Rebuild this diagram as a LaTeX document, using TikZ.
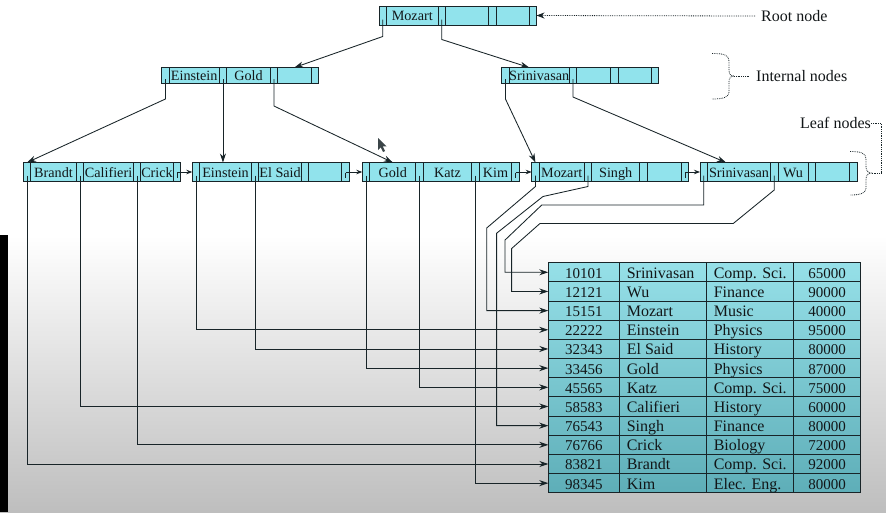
\documentclass[tikz,border=0pt]{standalone}
\usepackage{fontspec}
\setmainfont{Liberation Serif}
\usetikzlibrary{arrows.meta,calc}
\definecolor{cellfill}{RGB}{145,227,236}
\definecolor{edge}{RGB}{24,36,40}
\definecolor{tabtop}{RGB}{150,224,232}
\definecolor{tabbot}{RGB}{94,174,184}
\definecolor{bgbot}{RGB}{190,190,190}
\definecolor{ink}{RGB}{18,22,24}
\pgfdeclarelayer{bg}
\pgfsetlayers{bg,main}

\tikzset{
  cellbase/.style={draw=edge, line width=0.9pt, fill=cellfill, inner sep=0pt, outer sep=0pt,
    text=ink, font=\fontsize{14.2}{16}\selectfont, text height=12.6pt, text depth=2.2pt},
  rootrow/.style={minimum height=19pt},
  innerrow/.style={minimum height=16pt},
  leafrow/.style={minimum height=19pt},
  pcell/.style={cellbase, minimum width=7.5pt},
  kcell/.style={cellbase},
  ptr/.style={draw=edge, line width=0.85pt, -{Stealth[length=9pt,width=6pt]}},
  nextptr/.style={draw=edge, line width=0.85pt, -{Stealth[length=6pt,width=4.5pt]}},
  tick/.style={draw=edge, line width=0.85pt},
  tcell/.style={draw=edge, line width=0.9pt, inner sep=0pt, outer sep=0pt,
    minimum height=19.17pt, text=ink, text height=14pt, text depth=2pt},
  numtxt/.style={font=\fontsize{15}{17}\selectfont},
  wordtxt/.style={font=\fontsize{16}{18}\selectfont, inner xsep=7.5pt},
  note/.style={font=\fontsize{16}{18}\selectfont, text=ink, inner sep=0pt},
  guide/.style={draw=edge, densely dotted, line width=0.8pt},
}

% one B+-tree node: pointer / key / pointer / key / pointer / key / pointer
% #1 name, #2 west-centre point, #3 row style, #4-#6 key widths, #7-#9 keys
\newcommand\bpnode[9]{%
  \node[pcell,#3,anchor=west] (#1-p1) at #2 {};
  \node[kcell,#3,minimum width=#4pt,anchor=west] (#1-k1) at (#1-p1.east) {#7};
  \node[pcell,#3,anchor=west] (#1-p2) at (#1-k1.east) {};
  \node[kcell,#3,minimum width=#5pt,anchor=west] (#1-k2) at (#1-p2.east) {#8};
  \node[pcell,#3,anchor=west] (#1-p3) at (#1-k2.east) {};
  \node[kcell,#3,minimum width=#6pt,anchor=west] (#1-k3) at (#1-p3.east) {#9};
  \node[pcell,#3,anchor=west] (#1-p4) at (#1-k3.east) {};
}

\begin{document}
\begin{tikzpicture}[x=1pt, y=-1pt]
\useasboundingbox (0,0) rectangle (886,512);

% ---- tree nodes
\bpnode{root}{(379,15.5)}{rootrow}{51.5}{43}{33}{Mozart}{}{}
\bpnode{in1}{(161.7,75.5)}{innerrow}{50}{43.5}{33.5}{Einstein}{Gold}{}
\bpnode{in2}{(501.7,75.5)}{innerrow}{60}{34}{33}{Srinivasan}{}{}
\bpnode{lf1}{(23.3,172)}{leafrow}{45.5}{49.5}{32.5}{Brandt}{Califieri}{Crick}
\bpnode{lf2}{(192.3,172)}{leafrow}{51.5}{42.5}{33}{Einstein}{El Said}{}
\bpnode{lf3}{(362.3,172)}{leafrow}{46}{48.5}{32.5}{Gold}{Katz}{Kim}
\bpnode{lf4}{(531.7,172)}{leafrow}{45}{48}{34}{Mozart}{Singh}{}
\bpnode{lf5}{(700,172)}{leafrow}{63}{30}{34}{Srinivasan}{Wu}{}

% pointer starting points inside the pointer cells
\coordinate (root-t1) at ([yshift=-4pt]root-p1.center);
\coordinate (root-t2) at ([yshift=-4pt]root-p2.center);
\foreach \n in {in1,in2,lf1,lf2,lf3,lf4,lf5}{
  \foreach \k in {1,2,3}{
    \coordinate (\n-t\k) at ([yshift=-3.5pt]\n-p\k.center);
  }
}

% ---- instructor table
\foreach \id/\nm/\dept/\sal [count=\i from 0] in {
  10101/Srinivasan/Comp. Sci./65000,
  12121/Wu/Finance/90000,
  15151/Mozart/Music/40000,
  22222/Einstein/Physics/95000,
  32343/El Said/History/80000,
  33456/Gold/Physics/87000,
  45565/Katz/Comp. Sci./75000,
  58583/Califieri/History/60000,
  76543/Singh/Finance/80000,
  76766/Crick/Biology/72000,
  83821/Brandt/Comp. Sci./92000,
  98345/Kim/Elec. Eng./80000}{
  \node[tcell,numtxt,minimum width=71pt,anchor=north west] (r\i) at (548.3,{262.7+19.17*\i}) {\id};
  \node[tcell,wordtxt,anchor=west] (r\i-n) at (r\i.east) {\makebox[72pt][l]{\nm}};
  \node[tcell,wordtxt,anchor=west] (r\i-d) at (r\i-n.east) {\makebox[72.4pt][l]{\dept}};
  \node[tcell,numtxt,minimum width=66.6pt,anchor=west] (r\i-s) at (r\i-d.east) {\sal};
}

% ---- tree pointers
\draw[ptr] (root-t1) -- ++(0,17) -- (in1-k3.north);
\draw[ptr] (root-t2) -- ++(0,20) -- ([xshift=-10pt]in2-k1.north);
\draw[ptr] (in1-t1) -- ++(0,20) -- (lf1-p1.north);
\draw[ptr] (in1-t2) -- (in1-t2 |- lf2-k1.north);
\draw[ptr] (in1-t3) -- ++(0,27) -- (lf3-k1.north);
\draw[ptr] (in2-t1) -- ++(0,20) -- (lf4-p1.north);
\draw[ptr] (in2-t2) -- ++(0,18) -- ([xshift=-13pt]lf5-k1.north);

% leaf chain
\foreach \a/\b in {lf1/lf2,lf2/lf3,lf3/lf4,lf4/lf5}{
  \draw[tick] ([yshift=-1pt]\a-p4.center) -- ([yshift=-6pt]\a-p4.center);
  \draw[nextptr] (\a-p4.center) -- (\b-p1.west);
}

% leaf pointers to the records
\draw[ptr] (lf1-t1) |- (r10.west);
\draw[ptr] (lf1-t2) |- (r7.west);
\draw[ptr] (lf1-t3) |- (r9.west);
\draw[ptr] (lf2-t1) |- (r3.west);
\draw[ptr] (lf2-t2) |- (r4.west);
\draw[ptr] (lf3-t1) |- (r5.west);
\draw[ptr] (lf3-t2) |- (r6.west);
\draw[ptr] (lf3-t3) |- (r11.west);
\draw[ptr] (lf4-t1) -- ++(0,11) -- ++(-48.75,41.5) |- (r2.west);
\draw[ptr] (lf4-t2) -- ++(0,11) -- ++(-45,10) -- ++(-46.3,36.7) |- (r8.west);
\draw[ptr] (lf5-t1) -- ++(0,29.5) -- ++(-162,0) -- ++(-36.7,35) |- (r0.west);
\draw[ptr] (lf5-t2) -- ++(0,14.5) -- ++(-41,33.5) -- ++(-193.3,0) -- ++(-28.3,25) |- (r1.west);

% ---- annotations
\node[note,anchor=west] (rootlbl) at (761,16) {Root node};
\draw[guide,-{Stealth[length=8pt,width=6pt]}] ([xshift=-6pt]rootlbl.west) -- (root-p4.east);

\node[note,anchor=west] (innlbl) at (756,76) {Internal nodes};
\draw[guide] (712,53.5) .. controls (724,53.5) and (729,55) .. (729,61) -- (729,70)
  .. controls (729,74) and (730.5,76) .. (734,76)
  .. controls (730.5,76) and (729,78) .. (729,82) -- (729,92)
  .. controls (729,97) and (724,99) .. (712,99);
\coordinate (innbrace) at (734,76);
\draw[guide] (innbrace) -- ([xshift=-7pt]innlbl.west);

\node[note,anchor=west] (leaflbl) at (800,123) {Leaf nodes};
\draw[guide] (850,151.5) .. controls (861,151.5) and (866,153) .. (866,159) -- (866,166)
  .. controls (866,170) and (867.5,173) .. (871,173)
  .. controls (867.5,173) and (866,176) .. (866,180) -- (866,188)
  .. controls (866,193) and (861,195) .. (850,195);
\coordinate (leafbrace) at (871,173);
\draw[guide] (leaflbl.east) -- ++(10,0) |- (leafbrace);

% mouse pointer
\fill[edge!85!white] (378,138) -- (378,150) -- (380.8,147.3) -- (383,152) -- (385,151)
  -- (382.8,146.5) -- (386.5,146.3) -- cycle;

% ---- backgrounds
\begin{pgfonlayer}{bg}
  \fill[white] (0,0) rectangle (886,236);
  \shade[top color=white, bottom color=bgbot] (0,235) rectangle (886,512);
  \fill[black] (0,235) rectangle (8,512);
  \shade[top color=tabtop, bottom color=tabbot] (r0.north west) rectangle (r11-s.south east);
\end{pgfonlayer}
\end{tikzpicture}
\end{document}
